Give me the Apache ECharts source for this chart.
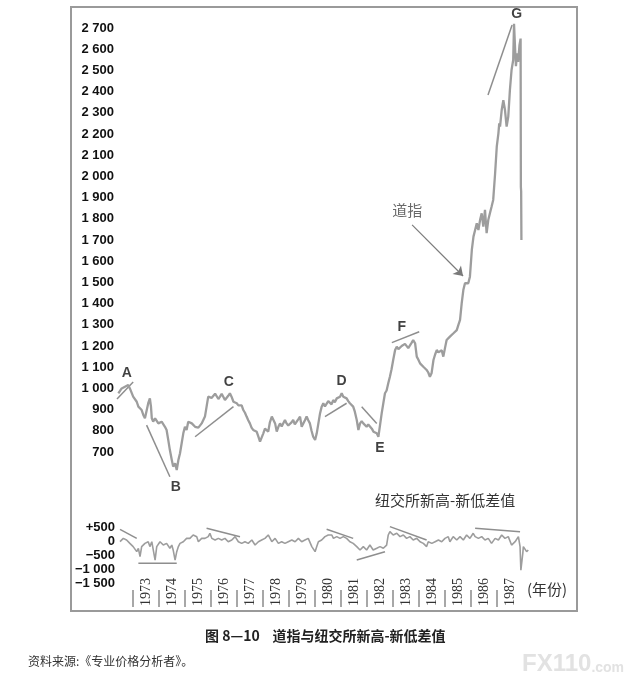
<!DOCTYPE html>
<html>
<head>
<meta charset="utf-8">
<script src="https://cdn.jsdelivr.net/npm/echarts@6.0.0/dist/echarts.min.js"></script>
<style>
html,body{margin:0;padding:0;background:#fff;}
#c{width:632px;height:690px;}
</style>
</head>
<body>
<div id="c"></div>
<script>
// ---- Data (decimal year, value) ----
const dowT = [1973.05,1973.17,1973.29,1973.41,1973.47,1973.54,1973.59,1973.72,1973.78,1973.90,1973.96,1974.02,1974.08,1974.14,1974.20,1974.24,1974.27,1974.32,1974.39,1974.51,1974.63,1974.75,1974.81,1974.87,1974.93,1975.00,1975.05,1975.12,1975.18,1975.24,1975.30,1975.36,1975.42,1975.48,1975.54,1975.60,1975.66,1975.73,1975.85,1975.97,1976.09,1976.21,1976.27,1976.33,1976.39,1976.45,1976.51,1976.58,1976.64,1976.70,1976.76,1976.82,1976.88,1976.94,1977.00,1977.06,1977.12,1977.18,1977.25,1977.31,1977.37,1977.43,1977.49,1977.55,1977.61,1977.67,1977.73,1977.79,1977.85,1977.91,1977.97,1978.04,1978.10,1978.16,1978.22,1978.28,1978.34,1978.40,1978.46,1978.52,1978.58,1978.65,1978.71,1978.77,1978.83,1978.89,1978.95,1979.01,1979.07,1979.13,1979.19,1979.25,1979.31,1979.37,1979.43,1979.49,1979.56,1979.62,1979.68,1979.74,1979.80,1979.86,1979.92,1979.98,1980.04,1980.10,1980.16,1980.23,1980.29,1980.35,1980.41,1980.47,1980.53,1980.59,1980.65,1980.71,1980.77,1980.83,1980.89,1980.95,1981.02,1981.08,1981.14,1981.20,1981.26,1981.32,1981.38,1981.44,1981.50,1981.56,1981.62,1981.68,1981.75,1981.81,1981.87,1981.93,1981.99,1982.05,1982.11,1982.17,1982.23,1982.30,1982.36,1982.42,1982.48,1982.54,1982.60,1982.66,1982.72,1982.78,1982.84,1982.90,1982.96,1983.02,1983.08,1983.15,1983.21,1983.27,1983.33,1983.39,1983.45,1983.51,1983.57,1983.63,1983.69,1983.75,1983.81,1983.88,1983.94,1984.00,1984.06,1984.12,1984.18,1984.24,1984.30,1984.36,1984.42,1984.48,1984.55,1984.61,1984.67,1984.73,1984.79,1984.85,1984.91,1984.97,1985.03,1985.09,1985.15,1985.21,1985.28,1985.34,1985.40,1985.46,1985.52,1985.58,1985.64,1985.70,1985.76,1985.82,1985.88,1985.95,1986.01,1986.07,1986.13,1986.19,1986.25,1986.31,1986.37,1986.43,1986.49,1986.55,1986.61,1986.67,1986.73,1986.80,1986.86,1986.92,1986.95,1986.98,1987.04,1987.10,1987.16,1987.22,1987.28,1987.34,1987.40,1987.46,1987.49,1987.53,1987.56,1987.60,1987.64,1987.69,1987.73,1987.74,1987.75,1987.76];
const dowV = [977,1000,1008,1016,1000,1008,961,937,914,898,875,859,867,930,953,914,859,843,859,835,843,819,804,757,709,662,631,647,615,662,694,741,788,819,804,843,851,835,819,815,835,867,914,961,969,955,961,975,969,950,961,975,969,945,953,965,977,961,937,945,930,920,914,920,898,885,867,850,835,815,804,812,795,772,749,757,788,810,819,796,840,867,875,835,796,819,835,820,827,851,835,825,819,840,851,830,835,855,867,819,835,850,867,850,835,800,772,757,788,835,882,914,930,915,922,940,937,925,945,935,953,945,961,977,961,970,953,940,930,925,914,890,851,804,835,845,835,840,819,830,835,810,796,805,788,772,780,882,930,977,990,1024,1055,1090,1134,1181,1197,1185,1181,1200,1197,1210,1205,1190,1197,1215,1228,1213,1150,1135,1118,1125,1102,1110,1087,1075,1055,1071,1134,1160,1181,1170,1166,1180,1150,1190,1228,1235,1244,1250,1260,1255,1275,1300,1323,1401,1464,1496,1490,1496,1527,1653,1716,1747,1779,1747,1794,1826,1763,1842,1732,1794,1826,1857,1889,2015,2140,2203,2250,2235,2313,2360,2313,2235,2282,2408,2502,2549,2720,2600,2520,2580,2540,2620,2650,1950,1930,1700];

const nhnlT = [1973.11,1973.23,1973.35,1973.47,1973.59,1973.72,1973.78,1973.84,1973.90,1974.02,1974.14,1974.20,1974.27,1974.39,1974.45,1974.57,1974.69,1974.81,1974.93,1975.00,1975.05,1975.12,1975.18,1975.24,1975.30,1975.42,1975.54,1975.66,1975.78,1975.91,1975.97,1976.09,1976.21,1976.33,1976.39,1976.46,1976.58,1976.70,1976.82,1976.94,1977.06,1977.19,1977.31,1977.43,1977.55,1977.67,1977.79,1977.92,1978.04,1978.16,1978.28,1978.40,1978.52,1978.65,1978.77,1978.89,1979.01,1979.13,1979.25,1979.38,1979.50,1979.62,1979.74,1979.86,1979.98,1980.11,1980.23,1980.29,1980.35,1980.47,1980.59,1980.71,1980.84,1980.90,1981.02,1981.14,1981.26,1981.38,1981.50,1981.62,1981.75,1981.87,1981.99,1982.11,1982.23,1982.35,1982.48,1982.60,1982.72,1982.84,1982.90,1982.96,1983.08,1983.21,1983.33,1983.45,1983.57,1983.69,1983.81,1983.94,1984.06,1984.18,1984.30,1984.36,1984.49,1984.61,1984.73,1984.85,1984.97,1985.09,1985.15,1985.27,1985.40,1985.52,1985.64,1985.76,1985.88,1986.00,1986.07,1986.19,1986.31,1986.43,1986.55,1986.67,1986.80,1986.92,1987.04,1987.16,1987.28,1987.40,1987.53,1987.65,1987.71,1987.74,1987.81,1987.83,1987.89,1987.95,1988.01];
const nhnlV = [-20,95,35,-85,-200,-380,-260,-560,-200,-85,-25,-200,-25,-680,-200,-25,-145,-85,-260,-145,-320,-680,-380,-200,-85,-25,95,95,215,155,-25,95,95,155,275,95,35,95,35,95,-25,35,155,-25,-85,-25,-85,35,-145,-25,35,95,215,-25,95,-85,-25,-85,-25,35,-25,95,-25,35,95,-200,-380,-200,-25,35,155,215,215,95,155,95,155,95,-25,-85,-200,-320,-200,-320,-145,-320,-260,-200,-260,-145,215,335,215,275,155,215,95,155,35,95,-25,-85,-200,-25,-85,-25,35,-25,95,155,-25,155,35,155,35,215,95,275,155,95,155,35,95,-85,95,35,215,95,155,-145,-25,155,-200,-1040,-440,-200,-260,-380,-320];

// trend lines [t1, v1, t2, v2]
const trendMain = [
  [1973.00, 950, 1973.59, 1030],
  [1974.08, 827, 1974.93, 583],
  [1975.85, 772, 1977.25, 914],
  [1980.59, 867, 1981.38, 930],
  [1981.93, 914, 1982.48, 835],
  [1983.03, 1216, 1984.03, 1267],
  [1986.54, 2384, 1987.42, 2714]
];
const trendLower = [
  [1973.11, 418, 1973.72, 95],
  [1973.78, -797, 1975.18, -797],
  [1976.27, 452, 1977.49, 155],
  [1980.65, 418, 1981.62, 95],
  [1981.75, -679, 1982.78, -381],
  [1982.96, 512, 1984.30, 36],
  [1986.07, 452, 1987.71, 333]
];
// annotation letters
const letterT = [1973.36, 1975.15, 1977.08, 1981.20, 1982.60, 1983.39, 1987.59];
const letterV = [1073, 535, 1030, 1035, 719, 1290, 2766];
const letterText = ['A','B','C','D','E','F','G'];
// Dow label + arrow
const dowLabel = {t: 1983.59, v: 1842, text: '道指'};
const arrowFrom = [1983.77, 1771];
const arrowTo = [1985.63, 1530];

const yearLabels = ['1973','1974','1975','1976','1977','1978','1979','1980','1981','1982','1983','1984','1985','1986','1987'];
const lowerTickVals = [-1500, -1000, -500, 0, 500];
const lowerTickText = ['\u22121 500', '\u22121 000', '\u2212500', '0', '+500'];

function zip(a, b) { return a.map((x, i) => [x, b[i]]); }
function fmtMain(v) {
  if (v < 700) return '';
  const s = String(v);
  return s.length > 3 ? s.slice(0, s.length - 3) + ' ' + s.slice(-3) : s;
}

const gray = '#9d9d9d';
const trendColor = '#8e8e8e';
const series = [];
series.push({
  type: 'line', xAxisIndex: 0, yAxisIndex: 0, data: zip(dowT, dowV),
  showSymbol: false, symbol: 'none', clip: false,
  lineStyle: {color: gray, width: 2.3}, z: 3
});
series.push({
  type: 'line', xAxisIndex: 1, yAxisIndex: 1, data: zip(nhnlT, nhnlV),
  showSymbol: false, symbol: 'none', clip: false,
  lineStyle: {color: gray, width: 1.6}, z: 3
});
trendMain.forEach(r => series.push({
  type: 'line', xAxisIndex: 0, yAxisIndex: 0, data: [[r[0], r[1]], [r[2], r[3]]],
  showSymbol: false, symbol: 'none', clip: false,
  lineStyle: {color: trendColor, width: 1.5}, z: 2
}));
trendLower.forEach(r => series.push({
  type: 'line', xAxisIndex: 1, yAxisIndex: 1, data: [[r[0], r[1]], [r[2], r[3]]],
  showSymbol: false, symbol: 'none', clip: false,
  lineStyle: {color: trendColor, width: 1.5}, z: 2
}));
series.push({
  type: 'scatter', xAxisIndex: 0, yAxisIndex: 0, clip: false,
  data: letterT.map((t, i) => ({value: [t, letterV[i]], name: letterText[i]})),
  symbolSize: 0,
  label: {show: true, position: 'inside', formatter: p => p.name,
    fontFamily: 'Liberation Sans', fontWeight: 'bold', fontSize: 14, color: '#111'},
  z: 5
});
series.push({
  type: 'scatter', xAxisIndex: 0, yAxisIndex: 0, clip: false,
  data: [{value: [dowLabel.t, dowLabel.v], name: dowLabel.text}],
  symbolSize: 0,
  label: {show: true, position: 'inside', formatter: p => p.name,
    fontFamily: 'Noto Sans CJK SC', fontSize: 15, color: '#444'},
  z: 5
});
// arrow pointing at the Dow line
series.push({
  type: 'line', xAxisIndex: 0, yAxisIndex: 0, data: [], silent: true,
  markLine: {
    silent: true, symbol: ['none', 'arrow'], symbolSize: 9,
    label: {show: false},
    lineStyle: {color: '#7a7a7a', width: 1.2, type: 'solid'},
    itemStyle: {color: '#7a7a7a'},
    emphasis: {disabled: true},
    data: [[{coord: arrowFrom}, {coord: arrowTo}]]
  },
  z: 5
});
// dummy series for the year-label grid
series.push({type: 'line', xAxisIndex: 2, yAxisIndex: 2, data: [], silent: true});

const option = {
  animation: false,
  backgroundColor: '#fff',
  grid: [
    {left: 117, top: 28, width: 411, height: 466.4},
    {left: 117, top: 527, width: 411, height: 56},
    {left: 133, top: 590, width: 390, height: 17}
  ],
  xAxis: [
    {gridIndex: 0, type: 'value', min: 1973, max: 1988, show: false},
    {gridIndex: 1, type: 'value', min: 1973, max: 1988, show: false},
    {gridIndex: 2, type: 'category', data: yearLabels, boundaryGap: true,
      axisLine: {show: false}, axisTick: {show: false},
      splitLine: {show: true, interval: 0, showMinLine: true, showMaxLine: false,
        lineStyle: {color: '#8a8a8a', width: 1.5}},
      axisLabel: {inside: true, rotate: 90, margin: 1, interval: 0,
        fontFamily: 'Liberation Serif', fontSize: 14, color: '#333'}}
  ],
  yAxis: [
    {gridIndex: 0, type: 'value', min: 500, max: 2700, interval: 100,
      axisLine: {show: false}, axisTick: {show: false}, splitLine: {show: false},
      axisLabel: {formatter: fmtMain, margin: 3, fontFamily: 'Liberation Sans',
        fontWeight: 'bold', fontSize: 13, color: '#111'}},
    {gridIndex: 1, type: 'value', min: -1500, max: 500, interval: 500,
      axisLine: {show: false}, axisTick: {show: false}, splitLine: {show: false},
      axisLabel: {formatter: v => lowerTickText[lowerTickVals.indexOf(v)] || '', margin: 2,
        fontFamily: 'Liberation Sans', fontWeight: 'bold', fontSize: 13, color: '#111'}},
    {gridIndex: 2, type: 'value', show: false}
  ],
  title: [
    {text: '纽交所新高-新低差值', left: 375, top: 493, padding: 0,
      textStyle: {fontFamily: 'Noto Sans CJK SC', fontSize: 15, fontWeight: 'normal', color: '#333'}},
    {text: '(年份)', left: 527, top: 582, padding: 0,
      textStyle: {fontFamily: 'Noto Sans CJK SC', fontSize: 15, fontWeight: 'normal', color: '#333'}},
    {text: '图 8—10    道指与纽交所新高-新低差值', left: 205, top: 629, padding: 0,
      textStyle: {fontFamily: 'Noto Sans CJK SC', fontSize: 14, fontWeight: 'bold', color: '#222'}},
    {text: '资料来源:《专业价格分析者》。', left: 28, top: 655, padding: 0,
      textStyle: {fontFamily: 'Noto Sans CJK SC', fontSize: 12, fontWeight: 'normal', color: '#333'}},
    {text: '{a|FX110}{b|.com}', left: 522, top: 652, padding: 0,
      textStyle: {rich: {
        a: {fontFamily: 'Liberation Sans', fontSize: 24, fontWeight: 'bold', color: '#e2e2e2'},
        b: {fontFamily: 'Liberation Sans', fontSize: 14, color: '#e2e2e2', padding: [8, 0, 0, 0]}
      }}}
  ],
  graphic: [
    {type: 'rect', shape: {x: 71, y: 7, width: 506, height: 604}, z: 0,
      style: {fill: null, stroke: '#9a9a9a', lineWidth: 2}}
  ],
  series: series
};

const chart = echarts.init(document.getElementById('c'), null, {renderer: 'canvas', width: 632, height: 690});
chart.setOption(option);
</script>
</body>
</html>
